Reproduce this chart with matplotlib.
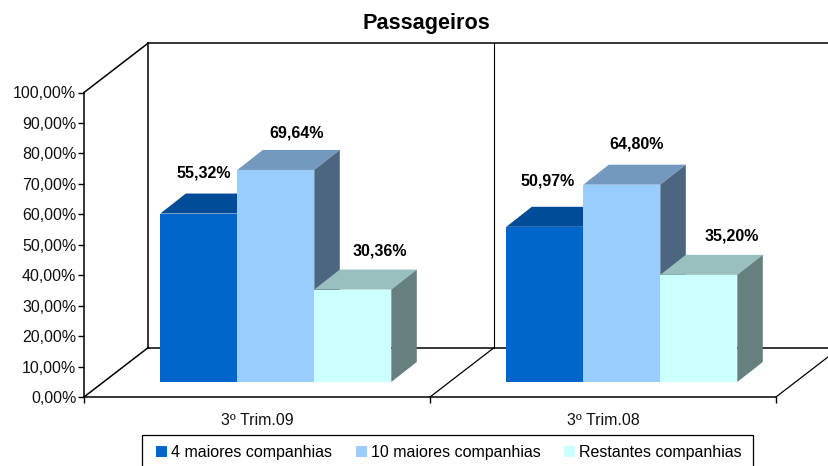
# recreate the "Passageiros" 3d column chart (excel style)
import matplotlib
matplotlib.use("Agg")
import matplotlib.pyplot as plt
from matplotlib.patches import Patch, Rectangle

plt.rcParams["font.family"] = ["Liberation Sans", "DejaVu Sans"]

# data
periods = ["3º Trim.09", "3º Trim.08"]
series_names = ["4 maiores companhias", "10 maiores companhias", "Restantes companhias"]
maiores_4 = [55.32, 50.97]
maiores_10 = [69.64, 64.80]
restantes = [30.36, 35.20]
y_ticks = [0, 10, 20, 30, 40, 50, 60, 70, 80, 90, 100]

# colours: front, top, side
front_colors = ["#0066CC", "#99CCFF", "#CCFFFF"]
top_colors = ["#004C99", "#7399BF", "#99BFBF"]
side_colors = ["#003366", "#4D6680", "#668080"]

# layout, one pixel in data units
W, H = 829, 466
left, right, bottom, top = 84, 776, 397, 92.5
px_x = 2 / (right - left)
px_y = 100 / (bottom - top)
wall_dx, wall_dy = 64.3 * px_x, 49.5 * px_y
bar_dx, bar_dy = 25.5 * px_x, 20 * px_y
bar_w = 77 * px_x
floor_y = 15 * px_y
group_shift = 18.8 * px_x


def pct(v):
    return f"{v:.2f}".replace(".", ",") + "%"


fig = plt.figure(figsize=(W / 100, H / 100), dpi=100)
ax = fig.add_axes([left / W, 1 - bottom / H, (right - left) / W, (bottom - top) / H])
ax.set_xlim(0, 2)
ax.set_ylim(0, 100)
ax.patch.set_alpha(0)
for s in ["top", "right"]:
    ax.spines[s].set_visible(False)
for s in ["left", "bottom"]:
    ax.spines[s].set_linewidth(1.1)

# walls and floor
line = dict(color="black", lw=1.1, clip_on=False, zorder=1, solid_capstyle="projecting")
ax.plot([wall_dx, wall_dx], [wall_dy, 100 + wall_dy], **line)
ax.plot([1 + wall_dx, 1 + wall_dx], [wall_dy, 100 + wall_dy], color="black", lw=0.8, clip_on=False, zorder=1)
ax.plot([wall_dx, 2 + wall_dx], [100 + wall_dy, 100 + wall_dy], **line)
ax.plot([wall_dx, 2 + wall_dx], [wall_dy, wall_dy], **line)
ax.plot([0, wall_dx], [100, 100 + wall_dy], **line)
for i, x in enumerate([0, 1, 2]):
    ax.plot([x, x + wall_dx], [0, wall_dy], color="black", lw=1.1 if i == 0 else 0.9, clip_on=False, zorder=1)

# bars, left to right so each one covers the side of the last
label_dx = [[5, 21, 27], [3, 15, 33]]
label_dy = [41, 37, 39, 46, 41, 39]
values = [maiores_4, maiores_10, restantes]
z = 2
for g in range(len(periods)):
    for s in range(3):
        v = values[s][g]
        x0 = g + 0.5 + group_shift + (s - 1.5) * bar_w
        x1 = x0 + bar_w
        y0 = floor_y
        y1 = floor_y + v
        ax.fill([x0 + bar_dx, x1 + bar_dx, x1, x0], [y1 + bar_dy, y1 + bar_dy, y1, y1],
                color=top_colors[s], lw=0, clip_on=False, zorder=z)
        ax.fill([x1, x1 + bar_dx, x1 + bar_dx, x1], [y0, y0 + bar_dy, y1 + bar_dy, y1],
                color=side_colors[s], lw=0, clip_on=False, zorder=z)
        ax.bar(x0, v, width=bar_w, bottom=y0, align="edge", color=front_colors[s], lw=0, clip_on=False, zorder=z + 1)
        ax.annotate(pct(v), (x0 + bar_w / 2, y1), xytext=(label_dx[g][s] * 0.72, label_dy[g * 3 + s] * 0.72),
                    textcoords="offset points", ha="center", va="center",
                    fontsize=11.5, fontweight="bold", color="black", zorder=20)
        z += 2

# axes ticks
ax.set_yticks(y_ticks)
ax.set_yticklabels([pct(v) for v in y_ticks], fontsize=11.5, color="#111111")
ax.set_xticks([0, 1, 2])
ax.set_xticklabels([])
ax.set_xticks([0.5, 1.5], minor=True)
ax.set_xticklabels(periods, minor=True, fontsize=11.5, color="#111111")
ax.tick_params(axis="x", which="minor", length=0, pad=11.5)
ax.tick_params(axis="x", which="major", length=4, width=1)
ax.tick_params(axis="y", which="major", length=4, width=1, pad=1.5)

fig.text(426 / W, 1 - 23.5 / H, "Passageiros", fontsize=15.6, fontweight="bold", ha="center", va="center")

# legend box runs off the bottom of the picture like the original
fig.add_artist(Rectangle((142 / W, -6 / H), 611 / W, (H - 435 + 6) / H, transform=fig.transFigure,
                         facecolor="white", edgecolor="black", lw=0.9))
handles = [Patch(color=c, lw=0) for c in front_colors]
leg = fig.legend(handles, series_names, ncols=3, loc="lower left",
                 bbox_to_anchor=(145 / W, -5 / H), bbox_transform=fig.transFigure,
                 fontsize=11.5, frameon=False,
                 handlelength=0.7, handleheight=0.7, handletextpad=0.25, columnspacing=1.45,
                 borderpad=0.7, borderaxespad=0)

fig.savefig("out.png", dpi=100)
